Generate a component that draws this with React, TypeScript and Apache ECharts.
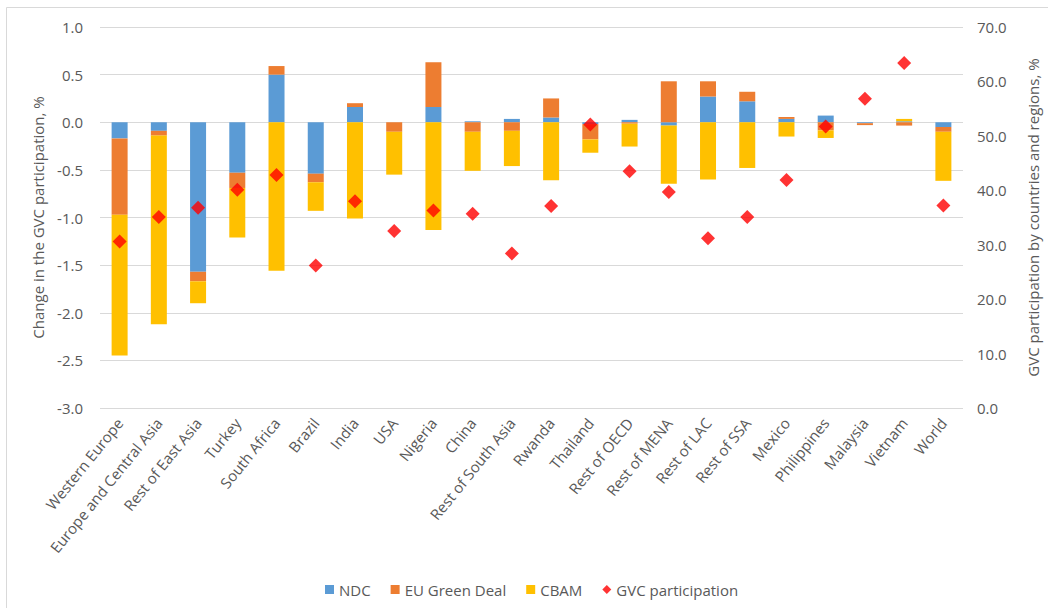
import React, { useEffect, useRef } from "react";
import * as echarts from "echarts";

const categories = [
  "Western Europe", "Europe and Central Asia", "Rest of East Asia", "Turkey", "South Africa",
  "Brazil", "India", "USA", "Nigeria", "China", "Rest of South Asia", "Rwanda", "Thailand",
  "Rest of OECD", "Rest of MENA", "Rest of LAC", "Rest of SSA", "Mexico", "Philippines",
  "Malaysia", "Vietnam", "World",
];

const ndc = [-0.17, -0.09, -1.57, -0.53, 0.5, -0.54, 0.16, 0, 0.16, 0.01, 0.035, 0.05, -0.02,
  0.025, -0.035, 0.27, 0.22, 0.035, 0.07, -0.01, 0.01, -0.05];
const euGreenDeal = [-0.8, -0.05, -0.1, -0.16, 0.09, -0.09, 0.04, -0.1, 0.47, -0.1, -0.09, 0.2,
  -0.16, -0.015, 0.43, 0.16, 0.1, 0.02, -0.085, -0.02, -0.035, -0.05];
const cbam = [-1.48, -1.98, -0.23, -0.52, -1.56, -0.3, -1.01, -0.45, -1.13, -0.41, -0.37, -0.61,
  -0.14, -0.24, -0.61, -0.6, -0.48, -0.15, -0.08, 0, 0.025, -0.515];
const gvcParticipation = [30.6, 35.1, 36.8, 40.1, 42.8, 26.2, 38.0, 32.5, 36.3, 35.7, 28.4, 37.1,
  52.1, 43.5, 39.7, 31.2, 35.1, 41.9, 51.7, 56.8, 63.4, 37.2];

const FONT = "'Open Sans', sans-serif";
const TEXT = "#595959";
const FS = 15;

export default function App() {
  const ref = useRef<HTMLDivElement>(null);
  useEffect(() => {
    if (!ref.current) return;
    const chart = echarts.init(ref.current, undefined, { renderer: "svg" });
    const barStyle = (color: string, name: string, data: number[]) => ({
      name,
      type: "bar",
      stack: "total",
      barWidth: 16,
      data,
      itemStyle: { color },
      yAxisIndex: 0,
    });
    chart.setOption({
      animation: false,
      textStyle: { fontFamily: FONT, color: TEXT },
      graphic: [
        { type: "line", shape: { x1: 6.5, y1: 7.5, x2: 1048, y2: 7.5 }, style: { stroke: "#d9d9d9", lineWidth: 1 } },
        { type: "line", shape: { x1: 6.5, y1: 7.5, x2: 6.5, y2: 608 }, style: { stroke: "#d9d9d9", lineWidth: 1 } },
      ],
      grid: { left: 100, right: 85, top: 27, bottom: 200, containLabel: false },
      legend: {
        left: 320,
        top: 577,
        itemWidth: 9,
        itemHeight: 9,
        itemGap: 20,
        textStyle: { fontFamily: FONT, fontSize: FS, color: TEXT },
        data: [
          { name: "NDC", icon: "rect" },
          { name: "EU Green Deal", icon: "rect" },
          { name: "CBAM", icon: "rect" },
          { name: "GVC participation", icon: "diamond" },
        ],
      },
      xAxis: {
        type: "category",
        data: categories,
        axisLine: { show: false },
        axisTick: { show: false },
        axisLabel: { rotate: 51, interval: 0, fontSize: FS, color: TEXT, fontFamily: FONT, margin: 12 },
      },
      yAxis: [
        {
          type: "value",
          min: -3,
          max: 1,
          interval: 0.5,
          name: "Change in the GVC participation, %",
          nameLocation: "middle",
          nameGap: 55,
          nameTextStyle: { fontSize: FS, color: TEXT, fontFamily: FONT },
          axisLabel: { formatter: (v: number) => v.toFixed(1), fontSize: FS, color: TEXT, fontFamily: FONT, margin: 17 },
          splitLine: { lineStyle: { color: "#d9d9d9", width: 1 } },
          axisLine: { show: false },
          axisTick: { show: false },
        },
        {
          type: "value",
          min: 0,
          max: 70,
          interval: 10,
          name: "GVC participation by countries and regions, %",
          nameLocation: "middle",
          nameGap: 62,
          nameTextStyle: { fontSize: FS, color: TEXT, fontFamily: FONT },
          axisLabel: { formatter: (v: number) => v.toFixed(1), fontSize: FS, color: TEXT, fontFamily: FONT, margin: 14 },
          splitLine: { show: false },
          axisLine: { show: false },
          axisTick: { show: false },
        },
      ],
      series: [
        barStyle("#5B9BD5", "NDC", ndc),
        barStyle("#ED7D31", "EU Green Deal", euGreenDeal),
        barStyle("#FFC000", "CBAM", cbam),
        {
          name: "GVC participation",
          type: "scatter",
          yAxisIndex: 1,
          symbol: "diamond",
          symbolSize: 14,
          data: gvcParticipation,
          itemStyle: { color: "#FF0000" },
          z: 5,
        },
      ],
    });
    return () => chart.dispose();
  }, []);
  return <div ref={ref} style={{ position: "fixed", left: 0, top: 0, width: 1048, height: 608, background: "#fff" }} />;
}
